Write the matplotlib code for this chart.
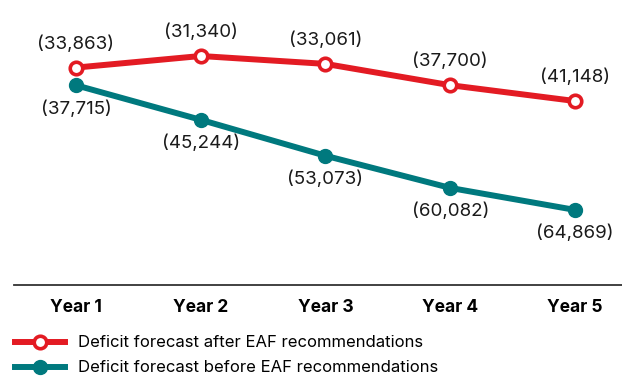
import matplotlib.pyplot as plt
import numpy as np

years = ["Year 1", "Year 2", "Year 3", "Year 4", "Year 5"]
after_eaf = [33863, 31340, 33061, 37700, 41148]
before_eaf = [37715, 45244, 53073, 60082, 64869]

red = "#e31b23"
teal = "#00797e"
plt.rcParams['font.family'] = ['Inter', 'DejaVu Sans']

fig = plt.figure(figsize=(6.22, 3.81), dpi=100)
ax = fig.add_axes([14/622, 96/381, 608/622, 285/381])
x = np.arange(1, len(years) + 1)

ax.plot(x, after_eaf, color=red, linewidth=4.3, marker='o', markersize=9,
        markerfacecolor='white', markeredgecolor=red, markeredgewidth=2.6,
        label="Deficit forecast after EAF recommendations", zorder=3)
ax.plot(x, before_eaf, color=teal, linewidth=4.3, marker='o', markersize=10,
        markerfacecolor=teal, markeredgecolor=teal,
        label="Deficit forecast before EAF recommendations", zorder=2)

for xi, v in zip(x, after_eaf):
    ax.annotate("({:,})".format(v), (xi, v), xytext=(0, 17), textcoords='offset points',
                ha='center', va='center', fontsize=13.5, color='#1a1a1a')
for xi, v in zip(x, before_eaf):
    ax.annotate("({:,})".format(v), (xi, v), xytext=(0, -17), textcoords='offset points',
                ha='center', va='center', fontsize=13.5, color='#1a1a1a')

ax.set_ylim(81230, 19140)
ax.set_xlim(0.503, 5.377)
ax.set_xticks(x)
ax.set_xticklabels(years, fontsize=12.5, fontweight='bold')
ax.tick_params(axis='x', length=0, pad=10)
ax.set_yticks([])
for s in ['top', 'right', 'left']:
    ax.spines[s].set_visible(False)
ax.spines['bottom'].set_color('#333333')
ax.spines['bottom'].set_linewidth(1.3)

fig.legend(loc='lower left', bbox_to_anchor=(0.0, -0.0245), frameon=False,
           fontsize=12, handlelength=3.0, handletextpad=0.75, labelspacing=0.6)

fig.savefig("out.png", dpi=100)
